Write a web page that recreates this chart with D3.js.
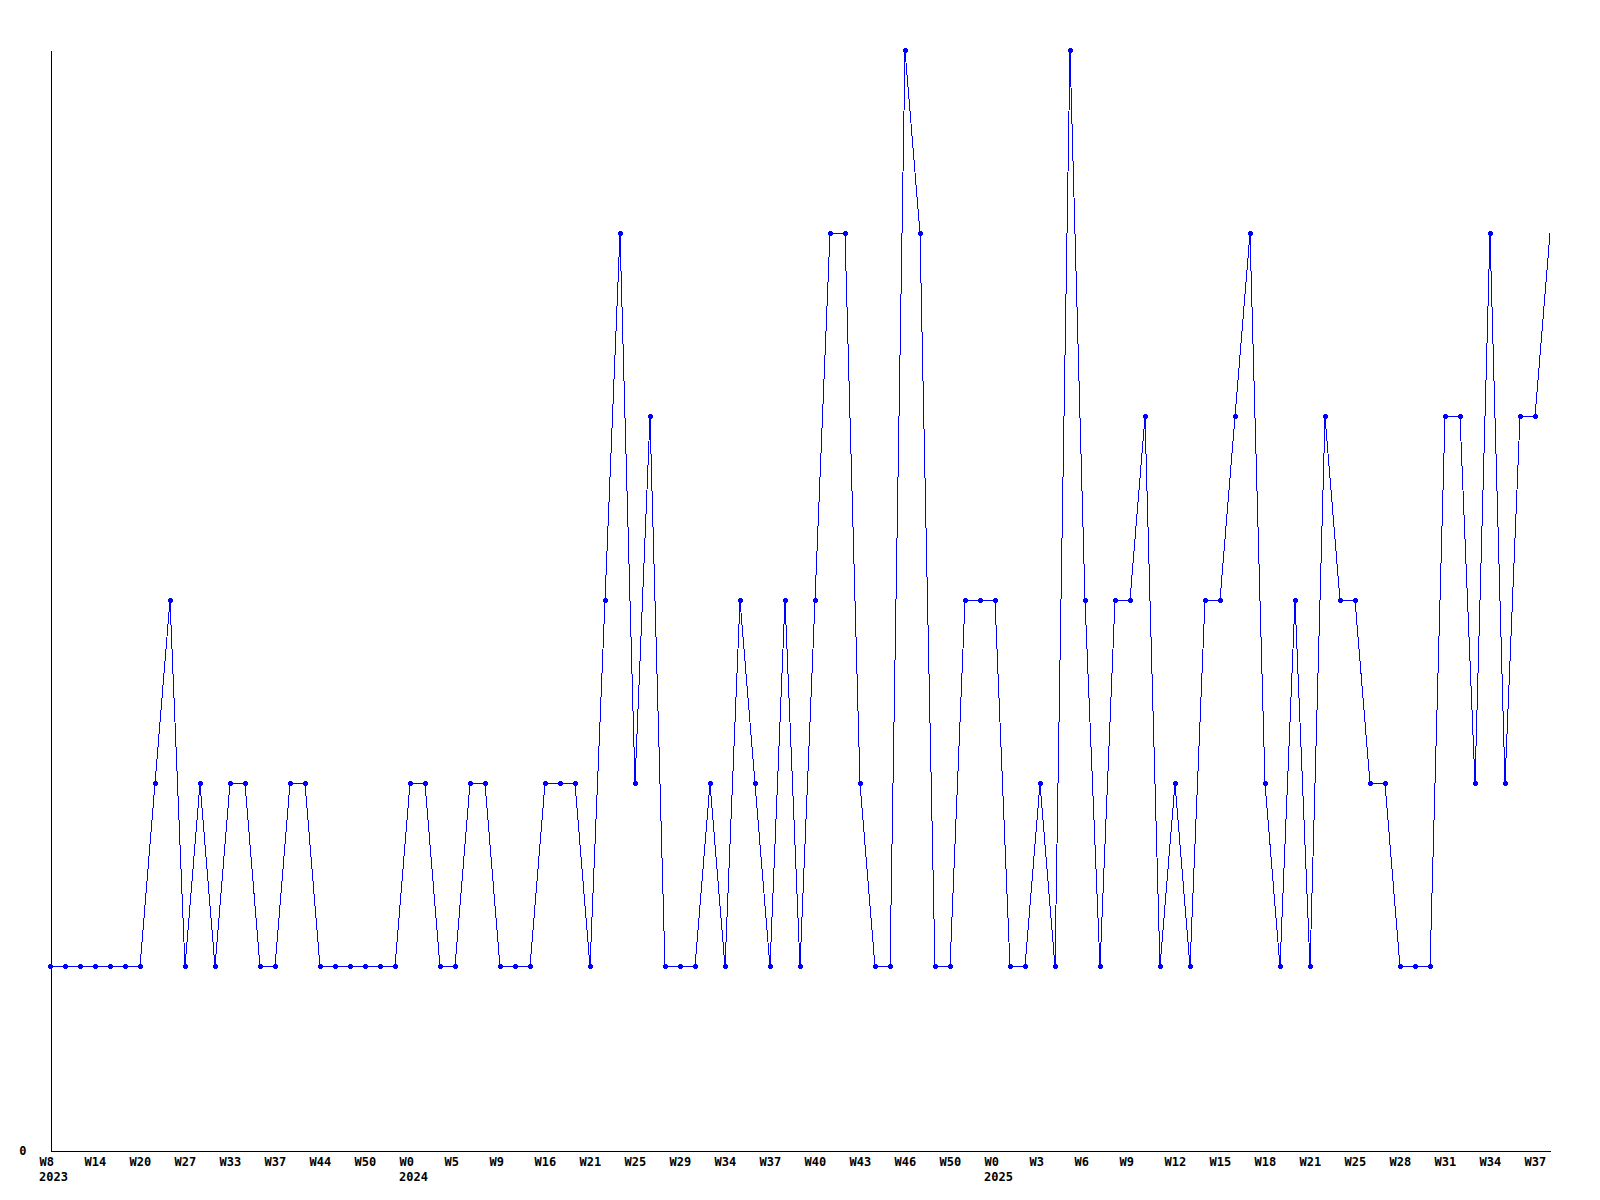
<!DOCTYPE html>
<html>
<head>
<meta charset="utf-8">
<script src="https://cdn.jsdelivr.net/npm/d3@7"></script>
<style>
    body { margin: 0; background: #fff; }
    svg { display: block; }
    text { font-family: "DejaVu Sans Mono", "Liberation Mono", monospace; font-weight: bold; font-size: 12px; fill: #000; }
</style>
</head>
<body>
<svg id="canvas"></svg>
<script>
// one value per week
let values = [
    1, 1, 1, 1, 1, 1, 1, 2, 3, 1,
    2, 1, 2, 2, 1, 1, 2, 2, 1, 1,
    1, 1, 1, 1, 2, 2, 1, 1, 2, 2,
    1, 1, 1, 2, 2, 2, 1, 3, 5, 2,
    4, 1, 1, 1, 2, 1, 3, 2, 1, 3,
    1, 3, 5, 5, 2, 1, 1, 6, 5, 1,
    1, 3, 3, 3, 1, 1, 2, 1, 6, 3,
    1, 3, 3, 4, 1, 2, 1, 3, 3, 4,
    5, 2, 1, 3, 1, 4, 3, 3, 2, 2,
    1, 1, 1, 4, 4, 2, 5, 2, 4, 4,
    5
]

// a label every 3rd point
let tickLabels = ['W8', 'W14', 'W20', 'W27', 'W33', 'W37', 'W44', 'W50', 'W0', 'W5', 'W9',
    'W16', 'W21', 'W25', 'W29', 'W34', 'W37', 'W40', 'W43', 'W46', 'W50',
    'W0', 'W3', 'W6', 'W9', 'W12', 'W15', 'W18', 'W21', 'W25', 'W28', 'W31', 'W34', 'W37']
let tickStep = 3
let yearLabels = [
    { tick: 0, year: '2023' },
    { tick: 8, year: '2024' },
    { tick: 21, year: '2025' }
]
let yMax = 6

const width = 1600, height = 1200
const mLeft = 50, mRight = 1550, mTop = 50, mBottom = 1150

let svg = d3.select('#canvas')
    .attr('width', width)
    .attr('height', height)

svg.append('rect')
    .attr('width', width)
    .attr('height', height)
    .attr('fill', '#fff')

let x = d3.scaleLinear().domain([0, values.length - 1]).range([mLeft, mRight])
let y = d3.scaleLinear().domain([0, yMax]).range([mBottom, mTop])

let tickIdx = tickLabels.map((d, i) => i * tickStep)

// x axis
let xAxis = svg.append('g')
    .attr('transform', 'translate(0.5,' + (mBottom + 0.5) + ')')
    .call(d3.axisBottom(x)
        .tickValues(tickIdx)
        .tickSize(0)
        .tickSizeOuter(0)
        .tickPadding(6.5)
        .tickFormat((d, i) => tickLabels[i]))
xAxis.select('.domain').attr('stroke', '#000').attr('shape-rendering', 'crispEdges')
xAxis.selectAll('text')
    .attr('text-anchor', 'start')
    .attr('dx', -11.5)
xAxis.attr('font-family', null).attr('font-size', null)

// year row
svg.append('g').selectAll('text')
    .data(yearLabels)
    .enter().append('text')
    .attr('x', d => x(tickIdx[d.tick]) - 11)
    .attr('y', mBottom + 31)
    .text(d => d.year)

// y axis
let yAxis = svg.append('g')
    .attr('transform', 'translate(' + (mLeft + 0.5) + ',0.5)')
    .call(d3.axisLeft(y)
        .tickValues([0])
        .tickSize(0)
        .tickSizeOuter(0)
        .tickPadding(24)
        .tickFormat(d3.format('d')))
yAxis.select('.domain').attr('stroke', '#000').attr('shape-rendering', 'crispEdges')
yAxis.attr('font-family', null).attr('font-size', null)

// line
let line = d3.line()
    .x((d, i) => x(i))
    .y(d => y(d))

svg.append('path')
    .datum(values)
    .attr('d', line)
    .attr('fill', 'none')
    .attr('stroke', '#0000ff')
    .attr('stroke-width', 1)
    .attr('shape-rendering', 'crispEdges')

// little plus markers (last point has none)
let marks = svg.append('g')
    .selectAll('g')
    .data(values.slice(0, values.length - 1))
    .enter().append('g')
    .attr('transform', (d, i) => 'translate(' + Math.round(x(i)) + ',' + Math.floor(y(d)) + ')')
    .attr('fill', '#0000ff')
    .attr('shape-rendering', 'crispEdges')

marks.append('rect').attr('x', -2).attr('y', -1).attr('width', 5).attr('height', 3)
marks.append('rect').attr('x', -1).attr('y', -2).attr('width', 3).attr('height', 5)
</script>
</body>
</html>
